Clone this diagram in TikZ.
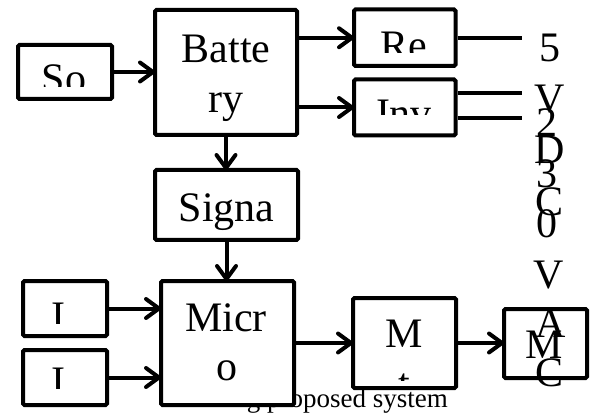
\documentclass[tikz,border=0pt]{standalone}
\usepackage{fontspec}
\setmainfont{Liberation Serif}
\begin{document}
\begin{tikzpicture}[x=1pt,y=-1pt,
  blk/.style={draw, line width=4pt, fill=white, rounded corners=1.5pt, inner sep=0pt, outer sep=2pt},
  lbl/.style={inner sep=0pt, anchor=base, font=\fontsize{42}{50}\selectfont},
  captxt/.style={inner sep=0pt, anchor=base east, font=\fontsize{27}{32}\selectfont},
  wire/.style={line width=4pt},
  barb/.style={line width=4pt, line cap=round, line join=round}
]
\newcommand\headright[1]{\draw[barb] ([shift={(-13,-9.5)}]#1) -- (#1) -- ([shift={(-13,9.5)}]#1);}
\newcommand\headdown[1]{\draw[barb] ([shift={(-9.5,-13)}]#1) -- (#1) -- ([shift={(9.5,-13)}]#1);}
\useasboundingbox (0,0) rectangle (595,417);
% caption (partly hidden by the boxes)
\node[captxt] (caption) at (448,407) {g proposed system};
% boxes
\node[blk, minimum width=94pt,  minimum height=54pt]  (so)  at (65,72) {};
\node[blk, minimum width=142pt, minimum height=125pt] (bat) at (226,72.5) {};
\node[blk, minimum width=143pt, minimum height=70pt]  (sig) at (226.5,205) {};
\node[blk, minimum width=133pt, minimum height=124pt] (mic) at (227.5,343) {};
\node[blk, minimum width=84pt,  minimum height=55pt]  (l1)  at (65,308.5) {};
\node[blk, minimum width=84pt,  minimum height=55pt]  (l2)  at (65,377.5) {};
\node[blk, minimum width=101.5pt, minimum height=56.5pt] (re) at (404.75,37.75) {};
\node[blk, minimum width=101.5pt, minimum height=56pt] (inv) at (404.75,107.5) {};
\node[blk, minimum width=103pt, minimum height=90pt]  (m)   at (404.5,343) {};
\node[blk, minimum width=83pt,  minimum height=69pt]  (mc)  at (545.5,343.5) {};
% texts inside boxes
\begin{scope}\clip (20,47) rectangle (110,87);
  \node[lbl] (tso) at (64,93) {So};\end{scope}
\node[lbl] (tbat1) at (226,63) {Batte};
\node[lbl] (tbat2) at (226,113) {ry};
\node[lbl] (tsig) at (226.5,222) {Signa};
\node[lbl] (tmic1) at (226,331) {Micr};
\node[lbl] (tmic2) at (227,380) {o};
\begin{scope}\clip (25,283) rectangle (105,323);
  \node[lbl] (tl1) at (58.5,330) {I};\end{scope}
\begin{scope}\clip (25,352) rectangle (105,388);
  \node[lbl] (tl2) at (58.5,395) {I};\end{scope}
\begin{scope}\clip (356,12) rectangle (453,53);
  \node[lbl] (tre) at (404,60) {Re};\end{scope}
\begin{scope}\clip (356,82) rectangle (453,115);
  \node[lbl] (tinv) at (404,128) {Inv};\end{scope}
\begin{scope}\clip (355,300) rectangle (454,380);
  \node[lbl] (tm1) at (404,347) {M};
  \node[lbl] (tm2) at (404,397) {t};\end{scope}
\node[lbl] (tmc) at (544,358) {M};
% arrows: shafts
\draw[wire] (so.east) -- (so.east -| bat.west);
\draw[wire] (re.west -| bat.east) -- (re.west);
\draw[wire] (inv.west -| bat.east) -- (inv.west);
\draw[wire] (bat.south) -- (bat.south |- sig.north);
\draw[wire] (sig.south) -- (sig.south |- mic.north);
\draw[wire] (l1.east) -- (l1.east -| mic.west);
\draw[wire] (l2.east) -- (l2.east -| mic.west);
\draw[wire] (mic.east) -- (mic.east -| m.west);
\draw[wire] (m.east) -- (m.east -| mc.west);
% arrows: heads
\headright{so.east -| bat.west}
\headright{re.west}
\headright{inv.west}
\headdown{bat.south |- sig.north}
\headdown{sig.south |- mic.north}
\headright{l1.east -| mic.west}
\headright{l2.east -| mic.west}
\headright{mic.east -| m.west}
\headright{m.east -| mc.west}
% output wires
\coordinate (reo) at (522,37.75);
\coordinate (invo1) at (522,93);
\coordinate (invo2) at (522,118);
\draw[wire] (re.east) -- (reo);
\draw[wire] (invo1 -| inv.east) -- (invo1);
\draw[wire] (invo2 -| inv.east) -- (invo2);
% output labels (two overlapping columns)
\node[lbl] (d1) at (550,62) {5};
\node[lbl] (d2) at (550,113) {V};
\node[lbl] (d3) at (550,164) {D};
\node[lbl] (d4) at (550,215) {C};
\node[lbl] (a1) at (547,137) {2};
\node[lbl] (a2) at (547,188) {3};
\node[lbl] (a3) at (547,238) {0};
\node[lbl] (a4) at (549,288) {V};
\node[lbl] (a5) at (551,337) {A};
\node[lbl] (a6) at (550,386) {C};
\end{tikzpicture}
\end{document}
